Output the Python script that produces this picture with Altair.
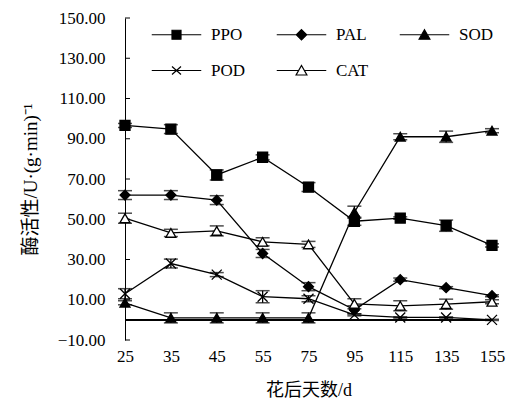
import altair as alt
import pandas as pd

days = ["25", "35", "45", "55", "75", "95", "115", "135", "155"]
series = ["PPO", "PAL", "SOD", "POD", "CAT"]
ppo = [96.6, 94.8, 72.0, 80.8, 66.0, 49.0, 50.6, 46.8, 37.0]
ppo_err = [1.0, 2.2, 2.5, 1.2, 2.2, 2.0, 0.6, 2.8, 0.8]
pal = [62.0, 62.0, 59.5, 33.0, 16.5, 5.0, 20.0, 16.0, 12.0]
pal_err = [2.2, 2.2, 2.2, 2.0, 2.0, 2.0, 0.8, 0.5, 0.5]
sod = [8.5, 1.0, 1.0, 1.0, 1.0, 53.5, 91.0, 91.0, 94.0]
sod_err = [1.0, 2.5, 2.5, 2.5, 2.5, 3.0, 1.5, 2.8, 1.0]
pod = [13.0, 28.0, 22.5, 11.5, 10.5, 2.5, 1.2, 1.2, 0.0]
pod_err = [2.5, 2.2, 1.0, 3.0, 1.5, 0.5, 0.3, 0.3, 0.3]
cat = [50.5, 43.2, 44.2, 38.8, 37.5, 8.0, 7.0, 7.8, 9.0]
cat_err = [2.5, 1.8, 2.5, 2.0, 1.5, 2.5, 2.5, 2.5, 1.0]
y_ticks = [-10, 10, 30, 50, 70, 90, 110, 130, 150]

values = {"PPO": ppo, "PAL": pal, "SOD": sod, "POD": pod, "CAT": cat}
errors = {"PPO": ppo_err, "PAL": pal_err, "SOD": sod_err, "POD": pod_err, "CAT": cat_err}

rows = []
for s in series:
    for d, v, e in zip(days, values[s], errors[s]):
        rows.append({"day": d, "series": s, "value": v, "lo": v - e, "hi": v + e})
df = pd.DataFrame(rows)
ticks_df = pd.DataFrame({"value": y_ticks})

SERIF = "'Liberation Serif', 'Times New Roman', serif"
SERIF_CJK = "'Liberation Serif', 'Noto Sans CJK SC', serif"
Y_TITLE = "酶活性/U·(g·min)⁻¹"

x_enc = alt.X("day:O", sort=days, scale=alt.Scale(type="point", padding=0),
              axis=alt.Axis(domain=False, ticks=False, labelAngle=0, labelPadding=8,
                            labelFont=SERIF, labelFontSize=17, labelColor="black",
                            title="花后天数/d", titleFont=SERIF_CJK, titleFontSize=18,
                            titleFontWeight="normal", titleColor="black", titlePadding=17))
y_scale = alt.Scale(domain=[-10, 150], nice=False, zero=False)
y_axis = alt.Axis(values=y_ticks, format=".2f", grid=False, ticks=False, domain=True,
                  domainColor="black", domainWidth=1, labelPadding=20,
                  labelFont=SERIF, labelFontSize=17, labelColor="black",
                  title=Y_TITLE, titleFont=SERIF_CJK, titleFontSize=19, titleFontWeight="normal",
                  titleColor="black", titlePadding=17)

base = alt.Chart(df)

zero_line = alt.Chart(ticks_df).mark_rule(color="black", strokeWidth=1).encode(
    y=alt.datum(0, scale=y_scale))

tick_rules = alt.Chart(ticks_df).mark_rule(color="black", strokeWidth=1).encode(
    y=alt.Y("value:Q", scale=y_scale, axis=y_axis),
    x=alt.value(0), x2=alt.value(5))

lines = base.mark_line(color="black", strokeWidth=1.3).encode(
    x=x_enc,
    y=alt.Y("value:Q", scale=y_scale, axis=y_axis),
    detail="series:N")

err_rules = base.mark_rule(color="black", strokeWidth=1.3).encode(
    x=x_enc, y=alt.Y("lo:Q", scale=y_scale, axis=y_axis), y2="hi:Q")
cap_lo = base.mark_tick(color="black", size=14, thickness=1.5).encode(
    x=x_enc, y=alt.Y("lo:Q", scale=y_scale, axis=y_axis))
cap_hi = base.mark_tick(color="black", size=14, thickness=1.5).encode(
    x=x_enc, y=alt.Y("hi:Q", scale=y_scale, axis=y_axis))

X_PATH = "M-1,-1L1,1M-1,1L1,-1"
points = base.mark_point(filled=True, stroke="black", strokeWidth=1.3, size=100, opacity=1).encode(
    x=x_enc,
    y=alt.Y("value:Q", scale=y_scale, axis=y_axis),
    shape=alt.Shape("series:N", sort=series, legend=None,
                    scale=alt.Scale(domain=series,
                                    range=["square", "diamond", "triangle-up", X_PATH, "triangle-up"])),
    fill=alt.Fill("series:N", sort=series, legend=None,
                  scale=alt.Scale(domain=series,
                                  range=["black", "black", "black", "black", "white"])))

leg_paths = [
    "M-5.5,0H5.5M-1,-1H1V1H-1Z",
    "M-5.5,0H5.5M0,-1.15L1.15,0L0,1.15L-1.15,0Z",
    "M-5.5,0H5.5M0,-1.1L1.2,1H-1.2Z",
    "M-5.5,0H5.5M-1,-0.9L1,0.9M-1,0.9L1,-0.9",
    "M-5.5,0H-0.6M0.6,0H5.5M0,-1.1L1.2,1H-1.2Z",
]
leg = alt.Legend(title=None, orient="none", legendX=43, legendY=8, columns=3,
                 direction="horizontal",
                 symbolSize=81, symbolStrokeColor="black", symbolStrokeWidth=1.2,
                 symbolOpacity=1, labelFont=SERIF, labelFontSize=17, labelColor="black",
                 labelOffset=26, columnPadding=28, rowPadding=18, padding=0)
legend_layer = base.mark_point(filled=True, opacity=0, size=81, strokeWidth=1.2).encode(
    x=x_enc,
    y=alt.Y("value:Q", scale=y_scale, axis=y_axis),
    shape=alt.Shape("series:N", sort=series, legend=leg,
                    scale=alt.Scale(domain=series, range=leg_paths)),
    fill=alt.Fill("series:N", sort=series, legend=leg,
                  scale=alt.Scale(domain=series,
                                  range=["black", "black", "black", "black", "white"])),
    stroke=alt.Stroke("series:N", sort=series, legend=leg,
                      scale=alt.Scale(domain=series,
                                      range=["black", "black", "black", "black", "black"])))

chart = alt.layer(zero_line, tick_rules, lines, err_rules, cap_lo, cap_hi, points, legend_layer).resolve_scale(
    shape="independent", fill="independent", stroke="independent"
).properties(
    width=367, height=322,
    autosize=alt.AutoSizeParams(type="none"),
    padding={"left": 117, "top": 10, "right": 16, "bottom": 62},
    background="white",
).configure_view(stroke=None)

chart.save("out.html", embed_options={"renderer": "svg", "actions": False})
